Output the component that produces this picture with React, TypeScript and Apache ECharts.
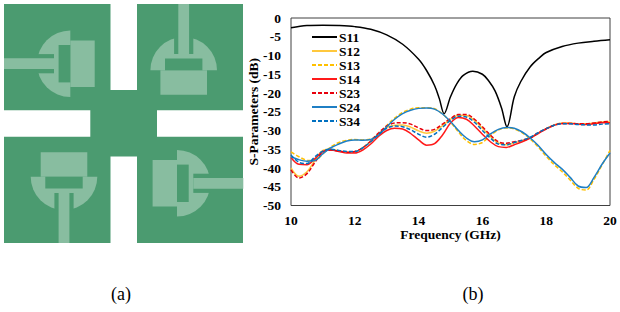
import React, { useEffect, useRef } from "react";
import * as echarts from "echarts";

const SERIF = "Liberation Serif";
const freq = [10,10.25,10.5,10.75,11,11.25,11.5,11.75,12,12.25,12.5,12.75,13,13.25,13.5,13.75,14,14.25,14.5,14.75,15,15.25,15.5,15.75,16,16.25,16.5,16.75,17,17.25,17.5,17.75,18,18.25,18.5,18.75,19,19.25,19.5,19.75,20];
const s11Freq = [10,10.5,11,11.5,12,12.5,13,13.5,14,14.25,14.5,14.65,14.8,15,15.2,15.4,15.7,16,16.2,16.4,16.6,16.77,17,17.2,17.5,17.8,18,18.5,19,19.5,20];
const s11 = [-2.6,-2.0,-1.9,-2.0,-2.3,-3.0,-4.5,-7,-11,-14,-18,-21.5,-25.5,-21,-17.5,-15.3,-14.2,-15,-16.8,-19.5,-24,-29,-21,-17,-13,-10.5,-9.2,-7.6,-6.7,-6.2,-5.8];
const s12 = [-40,-42.2,-41,-38,-35.3,-35,-35.4,-35.8,-35.7,-34.6,-32.9,-30.8,-29.2,-28.6,-28.5,-29.1,-30.1,-30.7,-30.2,-28.7,-27,-25.9,-26,-27.3,-29.4,-31.6,-33.3,-33.8,-33.3,-32.7,-32,-30.7,-29.5,-28.5,-28,-28,-28.2,-28.2,-28,-27.7,-27.6];
const s13 = [-35.7,-37,-37.9,-38,-36.2,-34.4,-33.2,-32.6,-32.4,-32.5,-32.3,-31,-28.7,-26.7,-25.2,-24.3,-23.9,-23.9,-24.2,-25.6,-27.8,-30.4,-32.7,-33.7,-33.2,-31.3,-29.9,-29.3,-29.6,-30.6,-32.3,-34.4,-36.9,-39.1,-41,-43.2,-45.4,-45.9,-43,-39.2,-35.3];
const s14 = [-37.2,-39,-39.1,-37.5,-35.6,-35.2,-35.6,-36,-36,-35.2,-33.6,-31.5,-30,-29.4,-29.6,-30.8,-32.5,-33.9,-33.5,-31.2,-28,-26.5,-27,-28.8,-31,-33,-34.3,-34.5,-33.8,-33,-32,-30.8,-29.6,-28.6,-28.1,-28.1,-28.3,-28.4,-28.2,-27.9,-27.9];
const s23 = [-40.5,-42.7,-41.5,-38.5,-35.8,-35.2,-35.5,-35.8,-35.6,-34.6,-32.8,-30.6,-28.8,-28,-27.9,-28.3,-29.3,-30,-29.7,-28.3,-26.8,-25.7,-25.7,-27,-29,-31.2,-33,-33.4,-33,-32.6,-32,-30.6,-29.5,-28.6,-28.1,-28.1,-28.2,-28.2,-28,-27.7,-27.6];
const s24 = [-37,-37.8,-38.2,-38,-36.2,-34.6,-33.6,-32.8,-32.5,-32.6,-32.4,-31.2,-29,-27,-25.5,-24.6,-24.1,-24,-24.3,-25.6,-27.6,-30,-32,-33,-32.5,-30.9,-29.7,-29.2,-29.4,-30.4,-32,-34,-36.4,-38.5,-40.3,-42.5,-44.8,-45.2,-42.5,-39,-36];
const s34 = [-36.5,-38.5,-38.8,-37,-35.5,-35,-35.3,-35.6,-35.6,-34.6,-33,-31,-29.4,-28.8,-29,-29.8,-31,-31.8,-31,-29.2,-27.3,-26.2,-26.4,-27.8,-30,-32,-33.6,-33.8,-33.2,-32.6,-31.8,-30.6,-29.5,-28.6,-28.2,-28.2,-28.4,-28.5,-28.5,-28.3,-28.2];

const zip = (xs: number[], ys: number[]) => xs.map((x, i) => [x, ys[i]]);
const GREEN = "#4b9b70";
const LIGHT = "#88bda0";

function patch(x: number, y: number, rotation: number) {
  const r = (a: number, b: number, c: number, d: number, fill: string) => ({
    type: "rect", shape: { x: a, y: b, width: c - a, height: d - b }, style: { fill },
  });
  return {
    type: "group", x, y, rotation,
    children: [
      { type: "sector", shape: { cx: 0, cy: 0, r: 33.3, r0: 0, startAngle: Math.PI, endAngle: 2 * Math.PI }, style: { fill: LIGHT } },
      r(-23.3, 0, 23.3, 24.4, LIGHT),
      r(-18.7, -11.7, 18.7, 0, GREEN),
      r(-9.6, -34, 9.6, -16.3, GREEN),
      r(-5.4, -66.3, 5.4, -16.3, LIGHT),
    ],
  };
}

const slot = (x: number, y: number, width: number, height: number) => ({
  type: "rect", shape: { x, y, width, height }, style: { fill: "#ffffff" },
});

function line(name: string, data: number[][], color: string, dashed: boolean, width = 1.5) {
  return {
    name, type: "line", data, showSymbol: false, symbol: "none", smooth: 0.35,
    lineStyle: { color, width, type: dashed ? [4, 2] : "solid" },
    itemStyle: { color },
  };
}

export default function App() {
  const ref = useRef<HTMLDivElement>(null);
  useEffect(() => {
    document.body.style.margin = "0";
    const chart = echarts.init(ref.current!, undefined, { renderer: "svg" });
    chart.setOption({
      animation: false,
      backgroundColor: "#ffffff",
      textStyle: { fontFamily: SERIF },
      grid: { left: 291, right: 10, top: 18, bottom: 106.5, show: true, borderColor: "#404040", borderWidth: 1, backgroundColor: "transparent" },
      legend: {
        left: 306, top: 25, orient: "vertical", itemWidth: 25, itemHeight: 10, itemGap: 0, itemStyle: { opacity: 0 },
        data: ["S11", "S12", "S13", "S14", "S23", "S24", "S34"],
        textStyle: { fontFamily: SERIF, fontWeight: "bold", fontSize: 13.5, lineHeight: 13.6, color: "#000", padding: [0, 0, 0, -3] },
      },
      xAxis: {
        type: "value", min: 10, max: 20, interval: 2, name: "Frequency (GHz)", nameLocation: "middle", nameGap: 22, nameMoveOverlap: false,
        nameTextStyle: { fontFamily: SERIF, fontWeight: "bold", fontSize: 13.5, color: "#000" },
        axisLine: { show: false }, axisTick: { show: false }, splitLine: { show: false },
        axisLabel: { fontFamily: SERIF, fontWeight: "bold", fontSize: 13.5, color: "#000", margin: 8 },
      },
      yAxis: {
        type: "value", min: -50, max: 0, interval: 5, name: "S-Parameters (dB)", nameLocation: "middle", nameGap: 31, nameMoveOverlap: false,
        nameTextStyle: { fontFamily: SERIF, fontWeight: "bold", fontSize: 13.5, color: "#000" },
        axisLine: { show: false }, axisTick: { show: false }, splitLine: { show: false },
        axisLabel: { fontFamily: SERIF, fontWeight: "bold", fontSize: 13.5, color: "#000", margin: 10 },
      },
      series: [
        line("S11", zip(s11Freq, s11), "#000000", false),
        line("S12", zip(freq, s12), "#ffc83d", false),
        line("S13", zip(freq, s13), "#ffc000", true),
        line("S14", zip(freq, s14), "#ff1a1a", false),
        line("S23", zip(freq, s23), "#e8000d", true),
        line("S24", zip(freq, s24), "#1f7fc4", false),
        line("S34", zip(freq, s34), "#0070c0", true),
      ],
      graphic: [
        { type: "rect", shape: { x: 4, y: 4, width: 239, height: 239 }, style: { fill: GREEN } },
        slot(110.5, 4, 26.5, 86),
        slot(110.5, 156.5, 26.5, 86.5),
        slot(4, 110.3, 86.3, 26.4),
        slot(157, 110.3, 86, 26.4),
        patch(183.7, 70.3, 0),
        patch(70.3, 63.7, Math.PI / 2),
        patch(64, 176.7, Math.PI),
        patch(177, 183.3, -Math.PI / 2),
        { type: "text", x: 121, y: 294, style: { text: "(a)", fontFamily: SERIF, fontSize: 18, fill: "#000", textAlign: "center", textVerticalAlign: "middle" } },
        { type: "text", x: 473, y: 294, style: { text: "(b)", fontFamily: SERIF, fontSize: 18, fill: "#000", textAlign: "center", textVerticalAlign: "middle" } },
      ],
    });
    return () => chart.dispose();
  }, []);
  return <div ref={ref} style={{ width: 620, height: 312 }} />;
}
